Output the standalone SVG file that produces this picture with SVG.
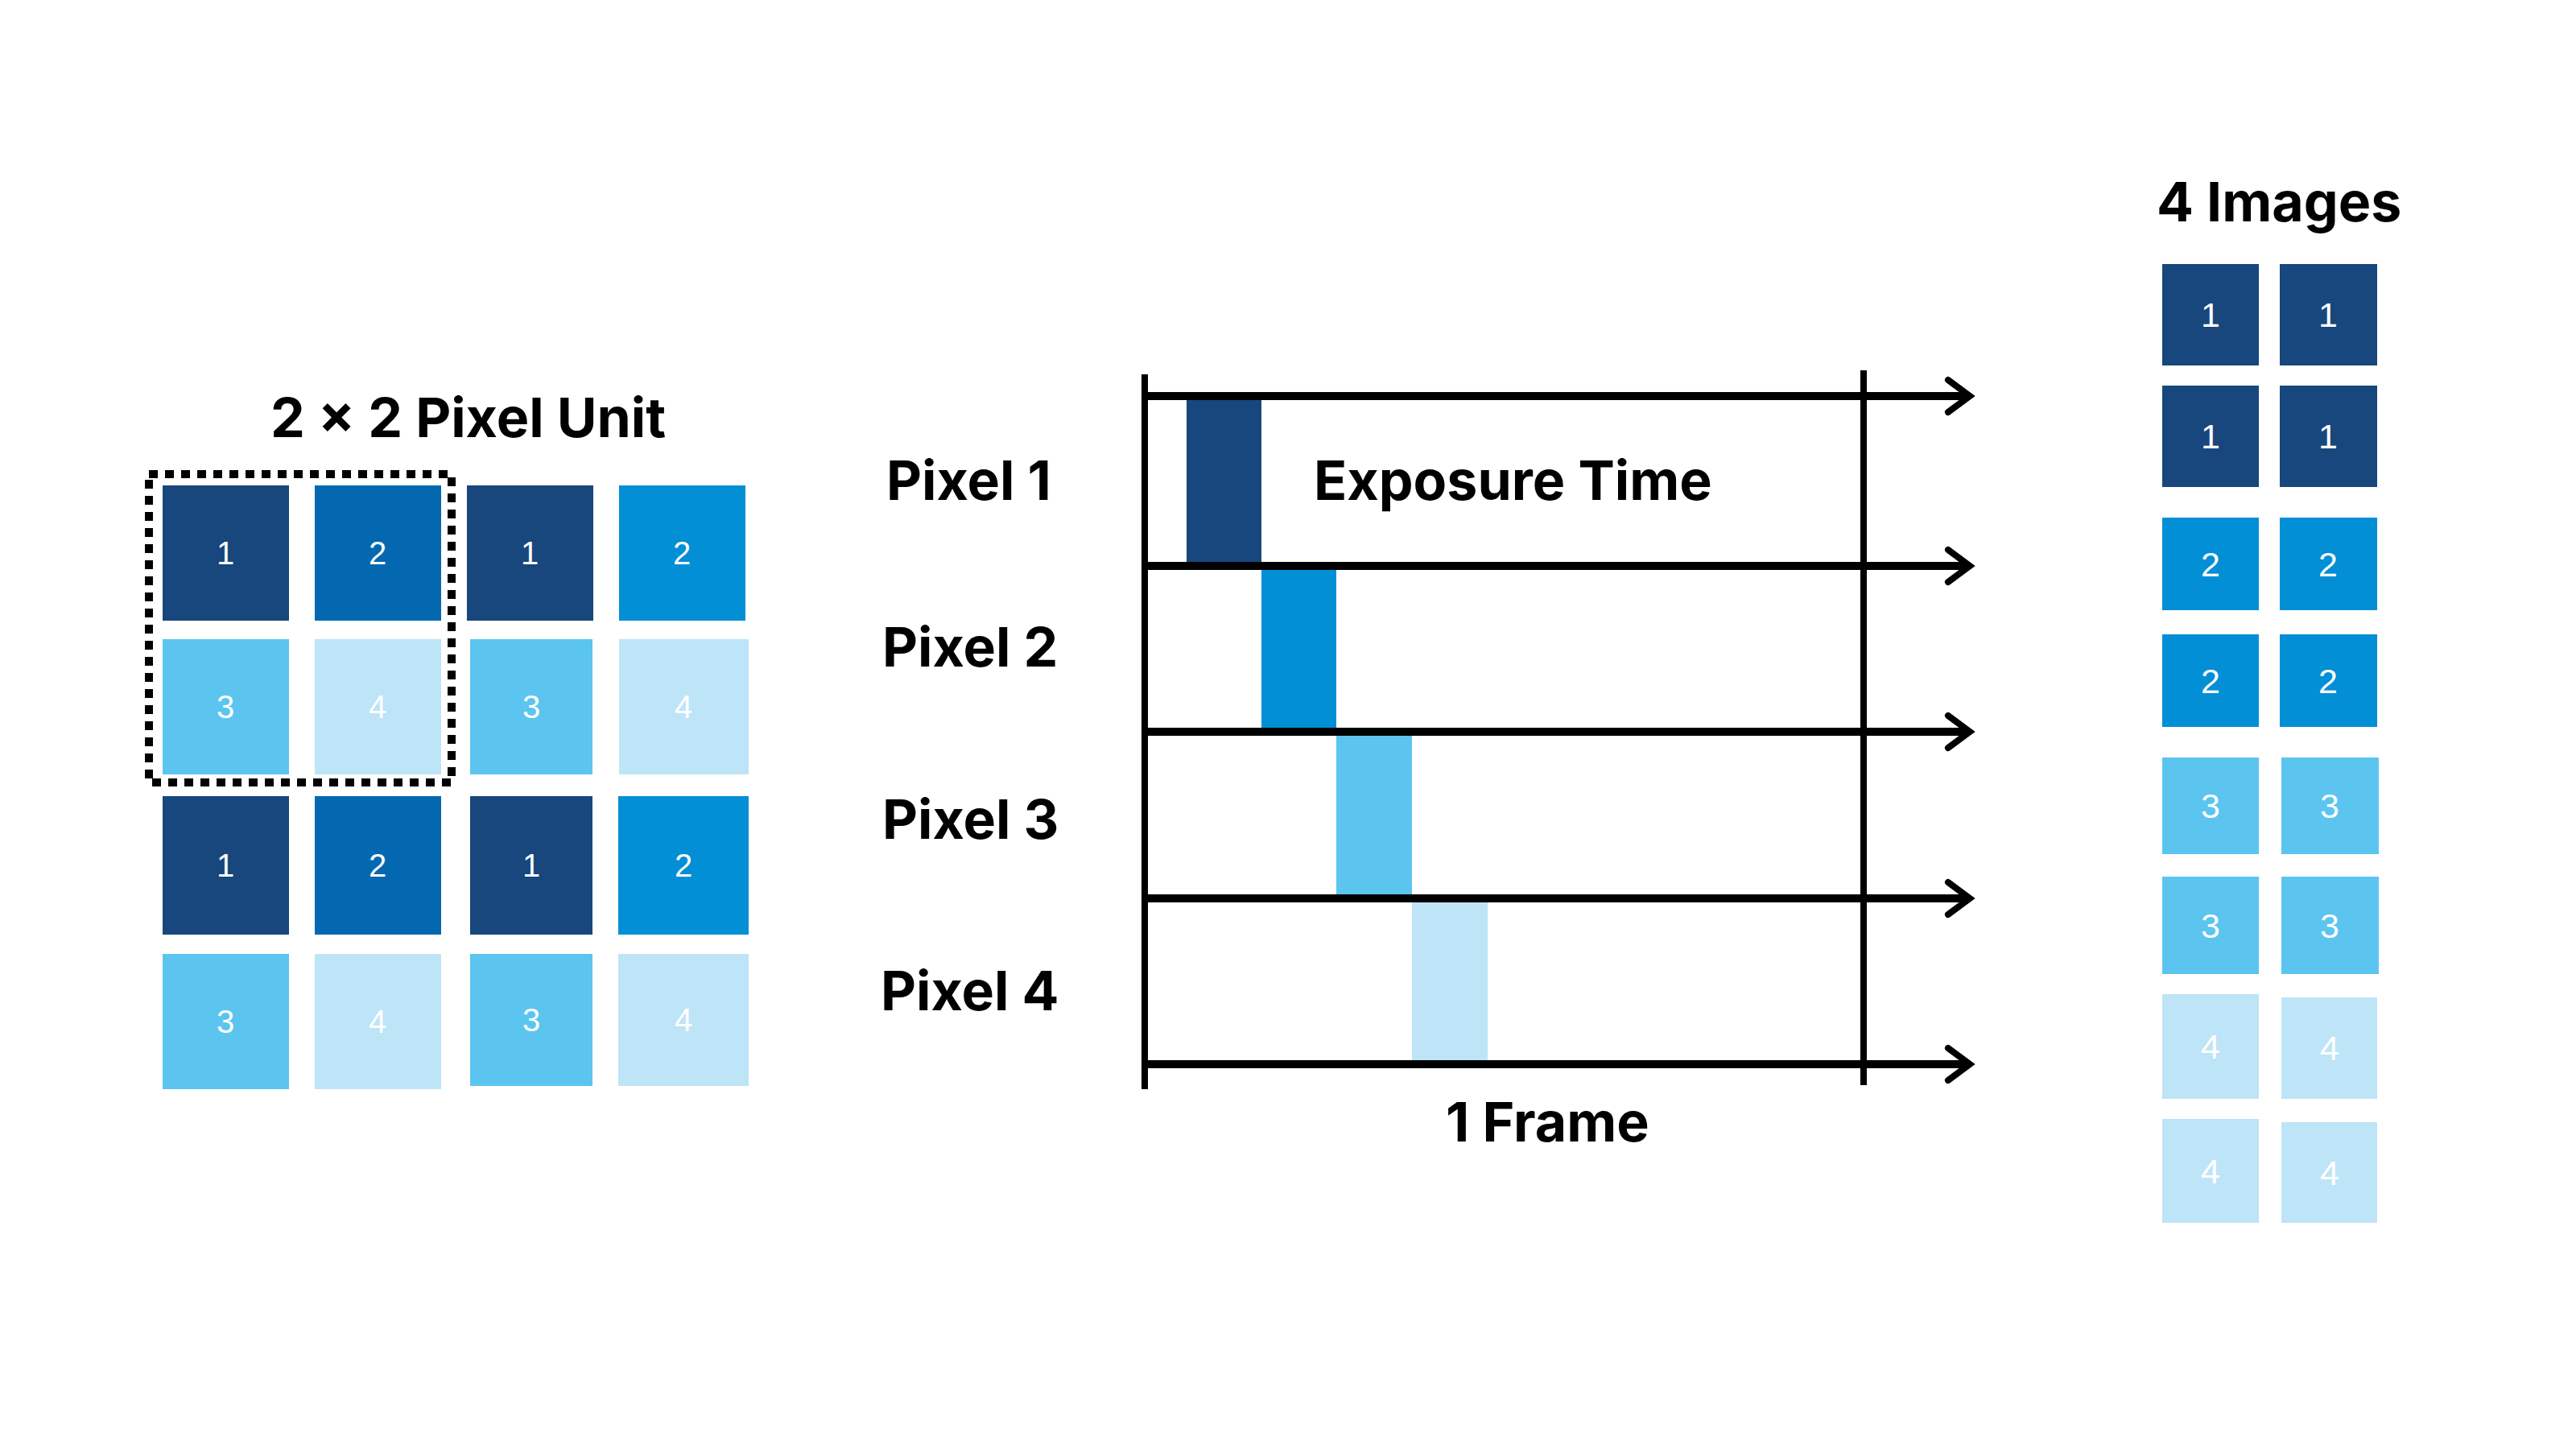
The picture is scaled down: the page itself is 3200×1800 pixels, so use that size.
<svg xmlns="http://www.w3.org/2000/svg" width="3200" height="1800" viewBox="0 0 3200 1800">
<style>
.title{font-family:Inter,"Liberation Sans",sans-serif;font-weight:700;font-size:68px;fill:#000}
.num{font-family:"Liberation Sans",Arial,sans-serif;font-weight:400;fill:#fff;text-anchor:middle}
.n1{font-size:40px}
.n2{font-size:43px}
.c1{fill:#17477c}
.c2a{fill:#0468b1}
.c2{fill:#038fd6}
.c3{fill:#5bc5f0}
.c4{fill:#bee4f8}
.axis{stroke:#000;stroke-width:10;fill:none}
.vline{stroke:#000;stroke-width:8;fill:none}
</style>
<defs>
<marker id="chev" markerUnits="userSpaceOnUse" markerWidth="60" markerHeight="60" refX="0" refY="0" viewBox="-40 -30 60 60" orient="auto" overflow="visible">
<path d="M-27,-20 L0,0 L-27,20" fill="none" stroke="#000" stroke-width="8" stroke-linecap="round" stroke-linejoin="miter"/>
</marker>
</defs>
<rect width="3200" height="1800" fill="#fff"/>

<g id="pixel-unit">
<text class="title" x="336" y="543">2 × 2 Pixel Unit</text>
<g id="cell-r1c1"><rect class="c1" x="202" y="603" width="157" height="168"/><text class="num n1" x="280" y="701">1</text></g>
<g id="cell-r1c2"><rect class="c2a" x="391" y="603" width="157" height="168"/><text class="num n1" x="469" y="701">2</text></g>
<g id="cell-r1c3"><rect class="c1" x="580" y="603" width="157" height="168"/><text class="num n1" x="658" y="701">1</text></g>
<g id="cell-r1c4"><rect class="c2" x="769" y="603" width="157" height="168"/><text class="num n1" x="847" y="701">2</text></g>
<g id="cell-r2c1"><rect class="c3" x="202" y="794" width="157" height="168"/><text class="num n1" x="280" y="892">3</text></g>
<g id="cell-r2c2"><rect class="c4" x="391" y="794" width="157" height="168"/><text class="num n1" x="469" y="892">4</text></g>
<g id="cell-r2c3"><rect class="c3" x="584" y="794" width="152" height="168"/><text class="num n1" x="660" y="892">3</text></g>
<g id="cell-r2c4"><rect class="c4" x="769" y="794" width="161" height="168"/><text class="num n1" x="849" y="892">4</text></g>
<g id="cell-r3c1"><rect class="c1" x="202" y="989" width="157" height="172"/><text class="num n1" x="280" y="1089">1</text></g>
<g id="cell-r3c2"><rect class="c2a" x="391" y="989" width="157" height="172"/><text class="num n1" x="469" y="1089">2</text></g>
<g id="cell-r3c3"><rect class="c1" x="584" y="989" width="152" height="172"/><text class="num n1" x="660" y="1089">1</text></g>
<g id="cell-r3c4"><rect class="c2" x="768" y="989" width="162" height="172"/><text class="num n1" x="849" y="1089">2</text></g>
<g id="cell-r4c1"><rect class="c3" x="202" y="1185" width="157" height="168"/><text class="num n1" x="280" y="1283">3</text></g>
<g id="cell-r4c2"><rect class="c4" x="391" y="1185" width="157" height="168"/><text class="num n1" x="469" y="1283">4</text></g>
<g id="cell-r4c3"><rect class="c3" x="584" y="1185" width="152" height="164"/><text class="num n1" x="660" y="1281">3</text></g>
<g id="cell-r4c4"><rect class="c4" x="768" y="1185" width="162" height="164"/><text class="num n1" x="849" y="1281">4</text></g>
<rect id="unit-box" x="185" y="589" width="376" height="383" fill="none" stroke="#000" stroke-width="10" stroke-dasharray="11 9"/>
</g>

<g id="timeline">
<g id="bars">
<rect class="c1" x="1474" y="492" width="93" height="211"/>
<rect class="c2" x="1567" y="703" width="93" height="206"/>
<rect class="c3" x="1660" y="909" width="94" height="207"/>
<rect class="c4" x="1754" y="1116" width="94" height="206"/>
</g>
<g id="connectors">
<line class="vline" x1="1422" y1="465" x2="1422" y2="1353"/>
<line class="vline" x1="2315" y1="460" x2="2315" y2="1348"/>
<line class="axis" x1="1418" y1="492" x2="2447" y2="492" marker-end="url(#chev)"/>
<line class="axis" x1="1418" y1="703" x2="2447" y2="703" marker-end="url(#chev)"/>
<line class="axis" x1="1418" y1="909" x2="2447" y2="909" marker-end="url(#chev)"/>
<line class="axis" x1="1418" y1="1116" x2="2447" y2="1116" marker-end="url(#chev)"/>
<line class="axis" x1="1418" y1="1322" x2="2447" y2="1322" marker-end="url(#chev)"/>
</g>
<text class="title" x="1101" y="621">Pixel 1</text>
<text class="title" x="1096" y="828">Pixel 2</text>
<text class="title" x="1096" y="1042">Pixel 3</text>
<text class="title" x="1094" y="1255">Pixel 4</text>
<text class="title" x="1632" y="621">Exposure Time</text>
<text class="title" x="1796" y="1418">1 Frame</text>
</g>

<g id="four-images">
<text class="title" x="2679" y="275">4 Images</text>
<g id="img-r1a"><rect class="c1" x="2686" y="328" width="120" height="126"/><text class="num n2" x="2746" y="406">1</text></g>
<g id="img-r1b"><rect class="c1" x="2832" y="328" width="121" height="126"/><text class="num n2" x="2892" y="406">1</text></g>
<g id="img-r2a"><rect class="c1" x="2686" y="479" width="120" height="126"/><text class="num n2" x="2746" y="557">1</text></g>
<g id="img-r2b"><rect class="c1" x="2832" y="479" width="121" height="126"/><text class="num n2" x="2892" y="557">1</text></g>
<g id="img-r3a"><rect class="c2" x="2686" y="643" width="120" height="115"/><text class="num n2" x="2746" y="716">2</text></g>
<g id="img-r3b"><rect class="c2" x="2832" y="643" width="121" height="115"/><text class="num n2" x="2892" y="716">2</text></g>
<g id="img-r4a"><rect class="c2" x="2686" y="788" width="120" height="115"/><text class="num n2" x="2746" y="861">2</text></g>
<g id="img-r4b"><rect class="c2" x="2832" y="788" width="121" height="115"/><text class="num n2" x="2892" y="861">2</text></g>
<g id="img-r5a"><rect class="c3" x="2686" y="941" width="120" height="120"/><text class="num n2" x="2746" y="1016">3</text></g>
<g id="img-r5b"><rect class="c3" x="2834" y="941" width="121" height="120"/><text class="num n2" x="2894" y="1016">3</text></g>
<g id="img-r6a"><rect class="c3" x="2686" y="1089" width="120" height="121"/><text class="num n2" x="2746" y="1165">3</text></g>
<g id="img-r6b"><rect class="c3" x="2834" y="1089" width="121" height="121"/><text class="num n2" x="2894" y="1165">3</text></g>
<g id="img-r7a"><rect class="c4" x="2686" y="1235" width="120" height="130"/><text class="num n2" x="2746" y="1315">4</text></g>
<g id="img-r7b"><rect class="c4" x="2834" y="1239" width="119" height="126"/><text class="num n2" x="2894" y="1317">4</text></g>
<g id="img-r8a"><rect class="c4" x="2686" y="1390" width="120" height="129"/><text class="num n2" x="2746" y="1470">4</text></g>
<g id="img-r8b"><rect class="c4" x="2834" y="1394" width="119" height="125"/><text class="num n2" x="2894" y="1472">4</text></g>
</g>
</svg>
